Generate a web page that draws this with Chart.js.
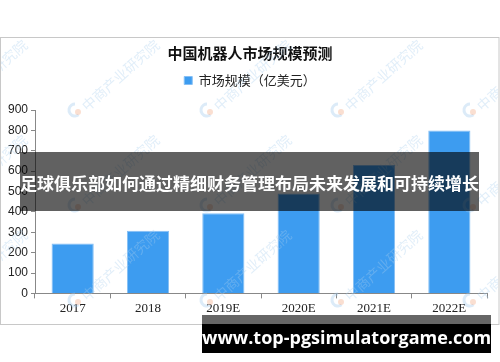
<!DOCTYPE html>
<html>
<head>
<meta charset="utf-8">
<script src="https://cdn.jsdelivr.net/npm/chart.js@4.4.1/dist/chart.umd.min.js"></script>
<style>
  html, body { margin: 0; padding: 0; background: #fff; }
  #wrap { position: relative; width: 500px; height: 362px; overflow: hidden; }
  #banner {
    position: absolute; left: 20px; top: 152px; width: 459px; height: 59px;
    background: rgba(0, 0, 0, 0.62); color: #fff;
    font: bold 17px "Noto Sans CJK SC", sans-serif; line-height: 62px;
    text-align: center; white-space: nowrap;
  }
  #urlTop { position: absolute; left: 202px; top: 315px; width: 289px; height: 9px; background: rgba(0, 0, 0, 0.6); }
  #url {
    position: absolute; left: 202px; top: 324px; width: 289px; height: 29px;
    background: #000; color: #fff; font: bold 18px "Open Sans", sans-serif;
    line-height: 27px; text-align: center; white-space: nowrap;
  }
</style>
</head>
<body>
<div id="wrap">
  <canvas id="robotChart" width="500" height="362"></canvas>
  <div id="banner">足球俱乐部如何通过精细财务管理布局未来发展和可持续增长</div>
  <div id="urlTop"></div>
  <div id="url">www.top-pgsimulatorgame.com</div>
</div>
<script>
// data
var years = ["2017", "2018", "2019E", "2020E", "2021E", "2022E"];
var marketSize = [245, 307, 393, 490, 630, 800];
var yTicks = [0, 100, 200, 300, 400, 500, 600, 700, 800, 900];

// white background + light grey frame
var framePlugin = {
  id: "frame",
  beforeDraw: function (chart) {
    var ctx = chart.ctx;
    ctx.save();
    ctx.fillStyle = "#fff";
    ctx.fillRect(0, 0, chart.width, chart.height);
    ctx.strokeStyle = "#c8c8c8";
    ctx.lineWidth = 1;
    ctx.strokeRect(0.5, 37.5, 498.5, 287);
    ctx.restore();
  },
};

// faint "中商产业研究院" watermark
var watermarkPlugin = {
  id: "watermark",
  afterDraw: function (chart) {
    var ctx = chart.ctx;
    ctx.save();
    ctx.beginPath();
    ctx.rect(1, 38, 497, 286);
    ctx.clip();
    var cols = [-57, 75, 207, 338, 470];
    var rows = [15, 110, 205, 300, 395];
    rows.forEach(function (y) {
      cols.forEach(function (x) {
        ctx.globalAlpha = 0.35;
        ctx.lineWidth = 3;
        ctx.strokeStyle = "#9cc7ea";
        ctx.beginPath();
        ctx.arc(x, y, 6, Math.PI * 0.3, Math.PI * 1.5);
        ctx.stroke();
        ctx.fillStyle = "#f2a27a";
        ctx.beginPath();
        ctx.arc(x + 3, y + 2, 3, 0, Math.PI * 2);
        ctx.fill();
        ctx.translate(x + 9, y - 2);
        ctx.rotate(-0.73);
        ctx.fillStyle = "#a9cdee";
        ctx.font = "14px 'Noto Sans CJK SC'";
        ctx.textBaseline = "middle";
        ctx.fillText("中商产业研究院", 0, 0);
        ctx.setTransform(1, 0, 0, 1, 0, 0);
      });
    });
    ctx.restore();
  },
};

var robotCtx = document.getElementById("robotChart").getContext("2d");
var robotChart = new Chart(robotCtx, {
  type: "bar",
  data: {
    labels: years,
    datasets: [
      {
        label: "市场规模（亿美元）",
        data: marketSize,
        backgroundColor: "#3d9cf0",
        borderColor: "#86bff5",
        borderWidth: 1,
        barPercentage: 0.56,
        categoryPercentage: 1,
      },
    ],
  },
  options: {
    responsive: false,
    animation: false,
    devicePixelRatio: 1,
    layout: { padding: { left: 0, right: 0, top: 0, bottom: 44 } },
    plugins: {
      title: {
        display: true,
        text: "中国机器人市场规模预测",
        color: "#111",
        font: { family: "Noto Sans CJK SC", size: 15, weight: "bold" },
        padding: { top: 44, bottom: 6 },
      },
      legend: {
        display: true,
        labels: {
          color: "#222",
          boxWidth: 8,
          boxHeight: 8,
          font: { family: "Noto Sans CJK SC", size: 13 },
          padding: 6,
        },
      },
      tooltip: { enabled: false },
    },
    scales: {
      x: {
        grid: { drawOnChartArea: false, drawTicks: true, tickLength: 5, color: "#888" },
        border: { color: "#888" },
        ticks: { color: "#222", padding: 2, font: { family: "Liberation Serif", size: 13 } },
      },
      y: {
        min: yTicks[0],
        max: yTicks[yTicks.length - 1],
        afterFit: function (scale) { scale.width = 35; },
        afterBuildTicks: function (scale) {
          scale.ticks = yTicks.map(function (v) { return { value: v }; });
        },
        grid: { drawOnChartArea: false, drawTicks: true, tickLength: 4, color: "#888" },
        border: { color: "#888" },
        ticks: { color: "#222", padding: 3, font: { family: "Liberation Sans", size: 12 } },
      },
      // empty gutters: right one keeps the title centred, top one spaces the plot below the legend
      gutter: {
        position: "right",
        afterFit: function (scale) { scale.width = 13; },
        grid: { display: false },
        border: { display: false },
        ticks: { display: false },
      },
      topGap: {
        position: "top",
        afterFit: function (scale) { scale.height = 13; },
        grid: { display: false },
        border: { display: false },
        ticks: { display: false },
      },
    },
  },
  plugins: [framePlugin, watermarkPlugin],
});
</script>
</body>
</html>
